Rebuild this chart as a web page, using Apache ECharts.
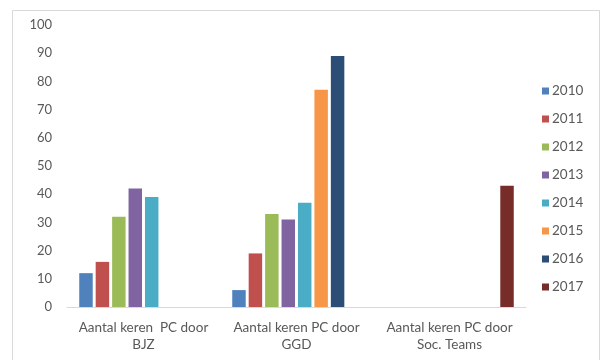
<!DOCTYPE html>
<html>
<head>
<meta charset="utf-8">
<script src="https://cdn.jsdelivr.net/npm/echarts@6/dist/echarts.min.js"></script>
<style>html,body{margin:0;padding:0;background:#fff}#c{width:600px;height:360px}</style>
</head>
<body>
<div id="c"></div>
<script>
var categories = ["Aantal keren  PC door\nBJZ", "Aantal keren PC door\nGGD", "Aantal keren PC door\nSoc. Teams"];
var years = ["2010", "2011", "2012", "2013", "2014", "2015", "2016", "2017"];
var v2010 = [12, 6, null];
var v2011 = [16, 19, null];
var v2012 = [32, 33, null];
var v2013 = [42, 31, null];
var v2014 = [39, 37, null];
var v2015 = [null, 77, null];
var v2016 = [null, 89, null];
var v2017 = [null, null, 43];
var yTicks = [0, 10, 20, 30, 40, 50, 60, 70, 80, 90, 100];

var values = [v2010, v2011, v2012, v2013, v2014, v2015, v2016, v2017];
var colors = ["#4F81BD", "#C0504D", "#9BBB59", "#8064A2", "#4BACC6", "#F79646", "#2C4D75", "#772C2A"];
var font = "Lato, 'Open Sans', sans-serif";

var chart = echarts.init(document.getElementById('c'));
chart.setOption({
  animation: false,
  textStyle: { fontFamily: font },
  graphic: [{
    type: 'rect', left: 10, top: 8, shape: { width: 587, height: 360 },
    style: { fill: 'none', stroke: '#d9d9d9', lineWidth: 1 }, silent: true
  }],
  legend: {
    orient: 'vertical', left: 537, top: 79, itemWidth: 7, itemHeight: 7, itemGap: 14,
    icon: 'rect', data: years,
    textStyle: { color: '#595959', fontSize: 13.5, fontFamily: font, padding: [0, 0, 0, -2] }
  },
  grid: { left: 67, right: 74, top: 25, bottom: 53 },
  xAxis: {
    type: 'category', data: categories,
    axisLine: { lineStyle: { color: '#d9d9d9', width: 1 } },
    axisTick: { show: false },
    axisLabel: { color: '#595959', fontSize: 13.5, fontFamily: font, margin: 12, lineHeight: 17, interval: 0 }
  },
  yAxis: {
    type: 'value', min: yTicks[0], max: yTicks[yTicks.length - 1], interval: 10,
    axisLine: { show: false }, axisTick: { show: false }, splitLine: { show: false },
    axisLabel: { color: '#595959', fontSize: 13, fontFamily: font, margin: 15 }
  },
  series: years.map(function (y, i) {
    return {
      name: y, type: 'bar', data: values[i],
      barCategoryGap: '16%', barGap: '22%',
      itemStyle: { color: colors[i] }
    };
  })
});
</script>
</body>
</html>
